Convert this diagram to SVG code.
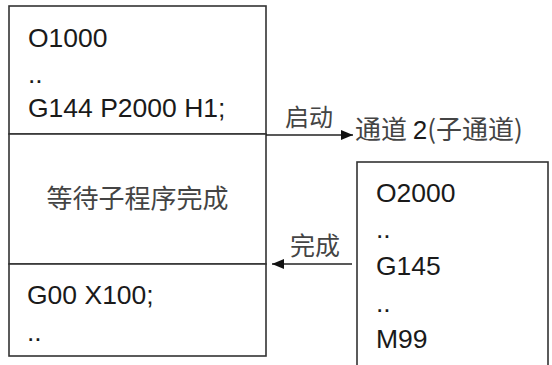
<svg xmlns="http://www.w3.org/2000/svg" width="552" height="365" viewBox="0 0 552 365">
<style>
.box{fill:#fff;stroke:#333;stroke-width:1.6}
.t{font-family:"Liberation Sans",Arial,sans-serif;font-size:26.5px;fill:#1a1a1a}
.c{font-family:"Noto Sans CJK SC","Liberation Sans",sans-serif;fill:#444}
.ln{stroke:#222;stroke-width:1.6;fill:none}
</style>
<defs>
<marker id="ah" viewBox="0 0 12 10" refX="12" refY="5" markerWidth="12" markerHeight="10" markerUnits="userSpaceOnUse" orient="auto">
<path d="M0,0 L12,5 L0,10 Z" fill="#111"/>
</marker>
</defs>
<rect width="552" height="365" fill="#fff"/>
<g id="main-top">
<rect class="box" x="9" y="6" width="257" height="128"/>
<text class="t" x="28" y="47">O1000</text>
<text class="t" x="28" y="83">..</text>
<text class="t" x="28" y="117">G144 P2000 H1;</text>
</g>
<g id="main-wait">
<rect class="box" x="9" y="134" width="257" height="130"/>
<text class="c" x="137.5" y="208" font-size="26" text-anchor="middle">等待子程序完成</text>
</g>
<g id="main-bottom">
<rect class="box" x="9" y="264" width="257" height="92"/>
<text class="t" x="27" y="304">G00 X100;</text>
<text class="t" x="27" y="341">..</text>
</g>
<g id="sub">
<rect class="box" x="357" y="162" width="191" height="210"/>
<text class="t" x="376" y="202">O2000</text>
<text class="t" x="376" y="238">..</text>
<text class="t" x="376" y="275">G145</text>
<text class="t" x="376" y="312">..</text>
<text class="t" x="376" y="348">M99</text>
</g>
<g id="connectors">
<line class="ln" x1="266" y1="135" x2="353" y2="135" marker-end="url(#ah)"/>
<text class="c" x="285" y="126" font-size="24">启动</text>
<text x="355" y="139" font-size="26"><tspan class="c">通道 </tspan><tspan class="t" style="font-size:26px">2</tspan><tspan class="c">(子通道)</tspan></text>
<line class="ln" x1="352" y1="264" x2="272" y2="264" marker-end="url(#ah)"/>
<text class="c" x="290" y="255" font-size="25">完成</text>
</g>
</svg>
